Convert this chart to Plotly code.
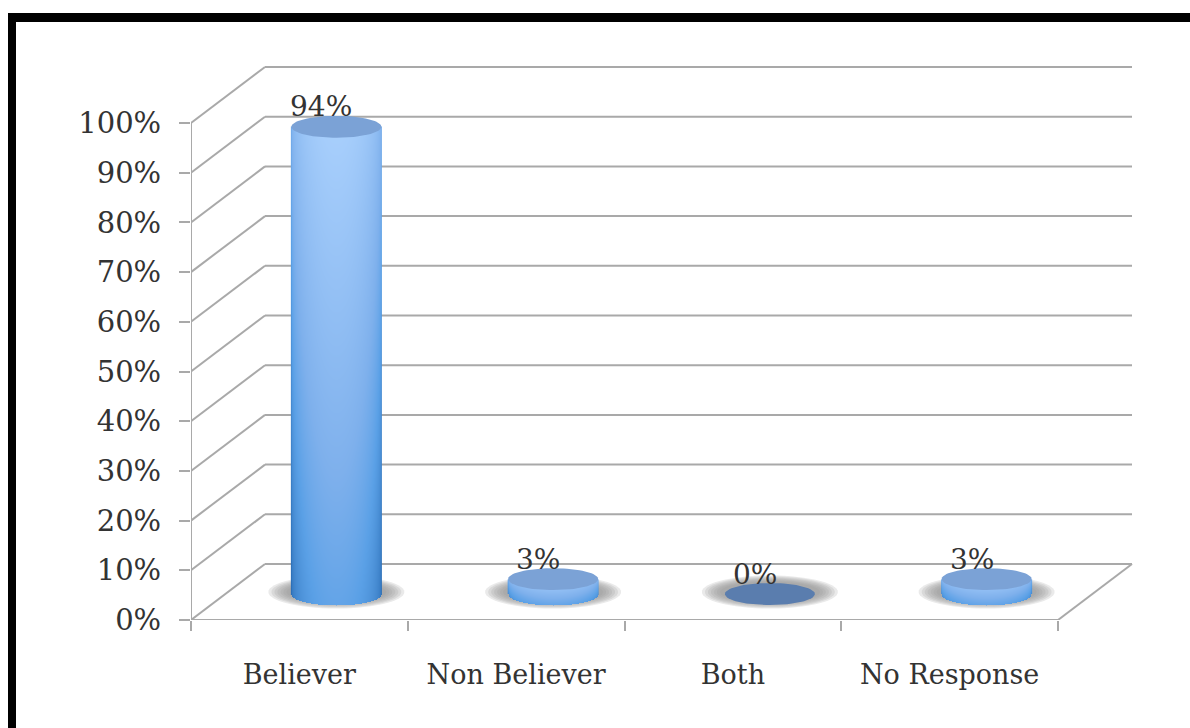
import numpy as np
import plotly.graph_objects as go

# Survey results
categories = ["Believer", "Non Believer", "Both", "No Response"]
values = [94, 3, 0, 3]
value_labels = ["94%", "3%", "0%", "3%"]
y_ticks = [0, 10, 20, 30, 40, 50, 60, 70, 80, 90, 100]
y_tick_labels = ["0%", "10%", "20%", "30%", "40%", "50%", "60%", "70%", "80%", "90%", "100%"]

# Pixel geometry of the plot box and the sheared floor/wall
LEFT, RIGHT, TOP, BOTTOM = 191, 1136, 60, 620
PX_PER_CAT, PX_PER_PCT = 216.75, 4.97
DEPTH_X = 74 / PX_PER_CAT
DEPTH_Y = 56 / PX_PER_PCT
BASE_Y = 26 / PX_PER_PCT
RX, RY = 45 / PX_PER_CAT, 11 / PX_PER_PCT
GRID = "#a9a9a9"
INK = "#333333"
FONT = "DejaVu Serif"
n = len(categories)


def ellipse_path(cx, cy, rx, ry):
    t = np.linspace(0, 2 * np.pi, 61)
    pts = [f"{cx + rx * np.cos(a):.4f},{cy + ry * np.sin(a):.4f}" for a in t]
    return "M" + "L".join(pts) + "Z"


shapes = []


def seg(x0, y0, x1, y1):
    shapes.append(dict(type="line", layer="below", x0=x0, y0=y0, x1=x1, y1=y1,
                       xref="x", yref="y", line=dict(color=GRID, width=2)))


# Wall and floor lines of the 3D box
for v in y_ticks:
    seg(0, v, DEPTH_X, v + DEPTH_Y)
    seg(DEPTH_X, v + DEPTH_Y, n + DEPTH_X, v + DEPTH_Y)
seg(0, 0, 0, 100)
seg(0, 0, n, 0)
seg(n, 0, n + DEPTH_X, DEPTH_Y)

fig = go.Figure()

# Soft floor shadow, then cylinder body and cap for each bar
for i, v in enumerate(values):
    cx = i + 0.5 + DEPTH_X / 2
    for k in range(7):
        shapes.append(dict(type="path", layer="below", xref="x", yref="y",
                           path=ellipse_path(cx, DEPTH_Y / 2, (68 - 3 * k) / PX_PER_CAT, (16.5 - 1.0 * k) / PX_PER_PCT),
                           fillcolor="rgba(150,150,150,0.2)", line=dict(width=0)))
    if v > 0:
        xs = np.arange(cx - RX, cx + RX + 1e-9, 1 / PX_PER_CAT)
        ys = np.arange(BASE_Y - RY, BASE_Y + v + 1e-9, 1 / PX_PER_PCT)
        X, Y = np.meshgrid(xs, ys)
        U = np.clip((X - cx) / RX, -1, 1)
        lower = BASE_Y - RY * np.sqrt(1 - U ** 2)
        vert = np.clip((Y - (BASE_Y - RY)) / (v + RY), 0, 1)
        horiz = np.sqrt(1 - U ** 2)
        Z = 0.55 * vert + 0.45 * horiz
        Z[Y < lower] = np.nan
        fig.add_trace(go.Heatmap(
            x=xs, y=ys, z=Z, zmin=0, zmax=1, showscale=False, hoverinfo="skip",
            colorscale=[[0, "#2a6db5"], [0.4, "#5aa0e6"], [0.6, "#7eb0ec"], [1, "#a8cffc"]],
        ))
    t = np.linspace(0, 2 * np.pi, 81)
    fig.add_trace(go.Scatter(
        x=cx + RX * np.cos(t), y=BASE_Y + v + RY * np.sin(t), mode="lines", fill="toself",
        fillcolor="#7ba2d6" if v > 0 else "#5a7dae", line=dict(width=0),
        hoverinfo="skip", showlegend=False,
    ))

annotations = [
    dict(x=i + 0.5 + DEPTH_X / 2, y=BASE_Y + v, text=lab, showarrow=False, xref="x", yref="y",
         xshift=-15, yshift=20, font=dict(family=FONT, size=28, color=INK))
    for i, (v, lab) in enumerate(zip(values, value_labels))
]


# Black frame along the top and left of the page
def px(x):
    return (x - LEFT) / (RIGHT - LEFT)


def py(y):
    return (BOTTOM - y) / (BOTTOM - TOP)


for x0, y0, x1, y1 in [(8, 13, 1190, 22), (8, 13, 16, 728)]:
    shapes.append(dict(type="rect", xref="paper", yref="paper", x0=px(x0), x1=px(x1), y0=py(y0), y1=py(y1),
                       fillcolor="#000000", line=dict(width=0), layer="above"))

fig.update_layout(
    width=1190, height=728, autosize=False,
    margin=dict(l=LEFT, r=1190 - RIGHT, t=TOP, b=728 - BOTTOM),
    paper_bgcolor="white", plot_bgcolor="rgba(0,0,0,0)", showlegend=False,
    shapes=shapes, annotations=annotations,
    font=dict(family=FONT, color=INK),
    xaxis=dict(
        range=[0, (RIGHT - LEFT) / PX_PER_CAT], showgrid=False, zeroline=False, showline=False,
        tickmode="array", tickvals=[i + 0.5 for i in range(n)], ticktext=categories, ticks="",
        tickfont=dict(family=FONT, size=27, color=INK), ticklabelstandoff=36,
        minor=dict(tickmode="array", tickvals=list(range(n + 1)), ticks="outside", ticklen=10,
                   tickwidth=2, tickcolor=GRID, showgrid=False),
    ),
    yaxis=dict(
        range=[0, (BOTTOM - TOP) / PX_PER_PCT], showgrid=False, zeroline=False, showline=False,
        tickmode="array", tickvals=y_ticks, ticktext=y_tick_labels, ticks="outside", ticklen=11,
        tickwidth=2, tickcolor=GRID, tickfont=dict(family=FONT, size=29, color=INK), ticklabelstandoff=12,
    ),
)

fig.write_html("out.html", config=dict(displayModeBar=False))
